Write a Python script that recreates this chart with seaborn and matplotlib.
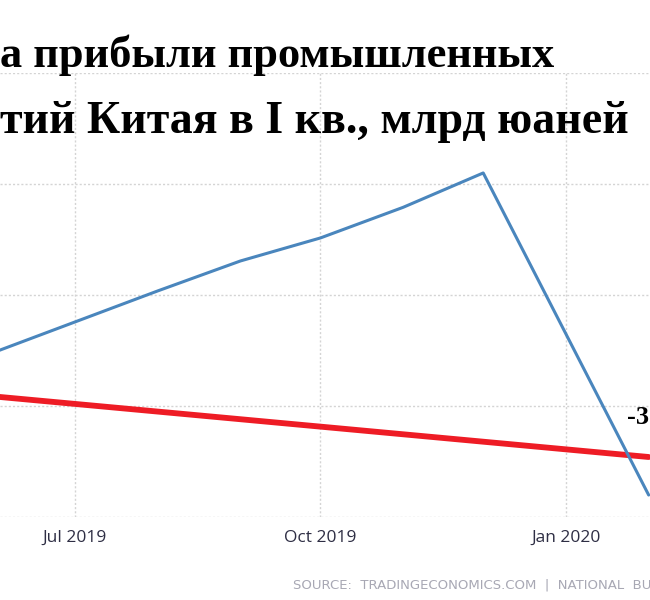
import numpy as np
import pandas as pd
import matplotlib
matplotlib.use("Agg")
import matplotlib.pyplot as plt
import matplotlib.dates as mdates
import seaborn as sns

# blue series: profits, red: trend line
dates = ["2019-06-01", "2019-07-01", "2019-08-01", "2019-09-01",
         "2019-10-01", "2019-11-01", "2019-12-01", "2020-02-01"]
profits = [2973, 3514, 4073, 4613, 5028, 5580, 6199, 396]
trend_dates = ["2019-06-01", "2020-02-01"]
trend_values = [2171, 1081]

tick_dates = ["2019-07-01", "2019-10-01", "2020-01-01"]
tick_labels = ["Jul 2019", "Oct 2019", "Jan 2020"]
y_grid = [0, 2000, 4000, 6000, 8000]

title_line1 = "а прибыли промышленных"
title_line2 = "тий Китая в I кв., млрд юаней"
last_label = "-3"
source = "SOURCE:  TRADINGECONOMICS.COM  |  NATIONAL  BU"

df = pd.DataFrame({"date": pd.to_datetime(dates), "value": profits})
tr = pd.DataFrame({"date": pd.to_datetime(trend_dates), "value": trend_values})

sns.set_style("white")
fig = plt.figure(figsize=(6.5, 6), dpi=100)
ax = fig.add_axes([0, 1 - 517 / 600, 1, 444 / 600])

sns.lineplot(data=df, x="date", y="value", ax=ax, color="#4a86bd",
             linewidth=2.2, solid_capstyle="round", zorder=3)
sns.lineplot(data=tr, x="date", y="value", ax=ax, color="#ee1c25",
             linewidth=4.2, zorder=2)

ax.set_xlim(pd.Timestamp("2019-06-02 22:00"), pd.Timestamp("2020-02-01 12:00"))
ax.set_ylim(0, 8000)
ax.set_yticks(y_grid)
ax.set_xticks(pd.to_datetime(tick_dates))
ax.set_xticklabels(tick_labels, fontsize=12.5, color="#2e2e44", family="Open Sans")
ax.tick_params(axis="y", left=False, labelleft=False)
ax.tick_params(axis="x", length=6, color="#c8c8c8", pad=3)
ax.grid(True, linestyle=(0, (1.5, 1.5)), color="#d4d4d4", linewidth=1.0)
for s in ax.spines.values():
    s.set_visible(False)
ax.set_xlabel("")
ax.set_ylabel("")

fig.text(0.0, 1 - 67 / 600, title_line1, fontsize=32, fontweight="bold",
         family="Liberation Serif", color="black", va="baseline", ha="left", zorder=5)
fig.text(0.0, 1 - 133 / 600, title_line2, fontsize=33, fontweight="bold",
         family="Liberation Serif", color="black", va="baseline", ha="left", zorder=5)
fig.text(649 / 650, 1 - 418 / 600, last_label, fontsize=19, fontweight="bold",
         family="Liberation Serif", color="black", va="center", ha="right")
fig.text(293 / 650, 1 - 585 / 600, source, fontsize=9.5, color="#a8a8b4",
         va="center", ha="left")

fig.savefig("out.png", dpi=100)
